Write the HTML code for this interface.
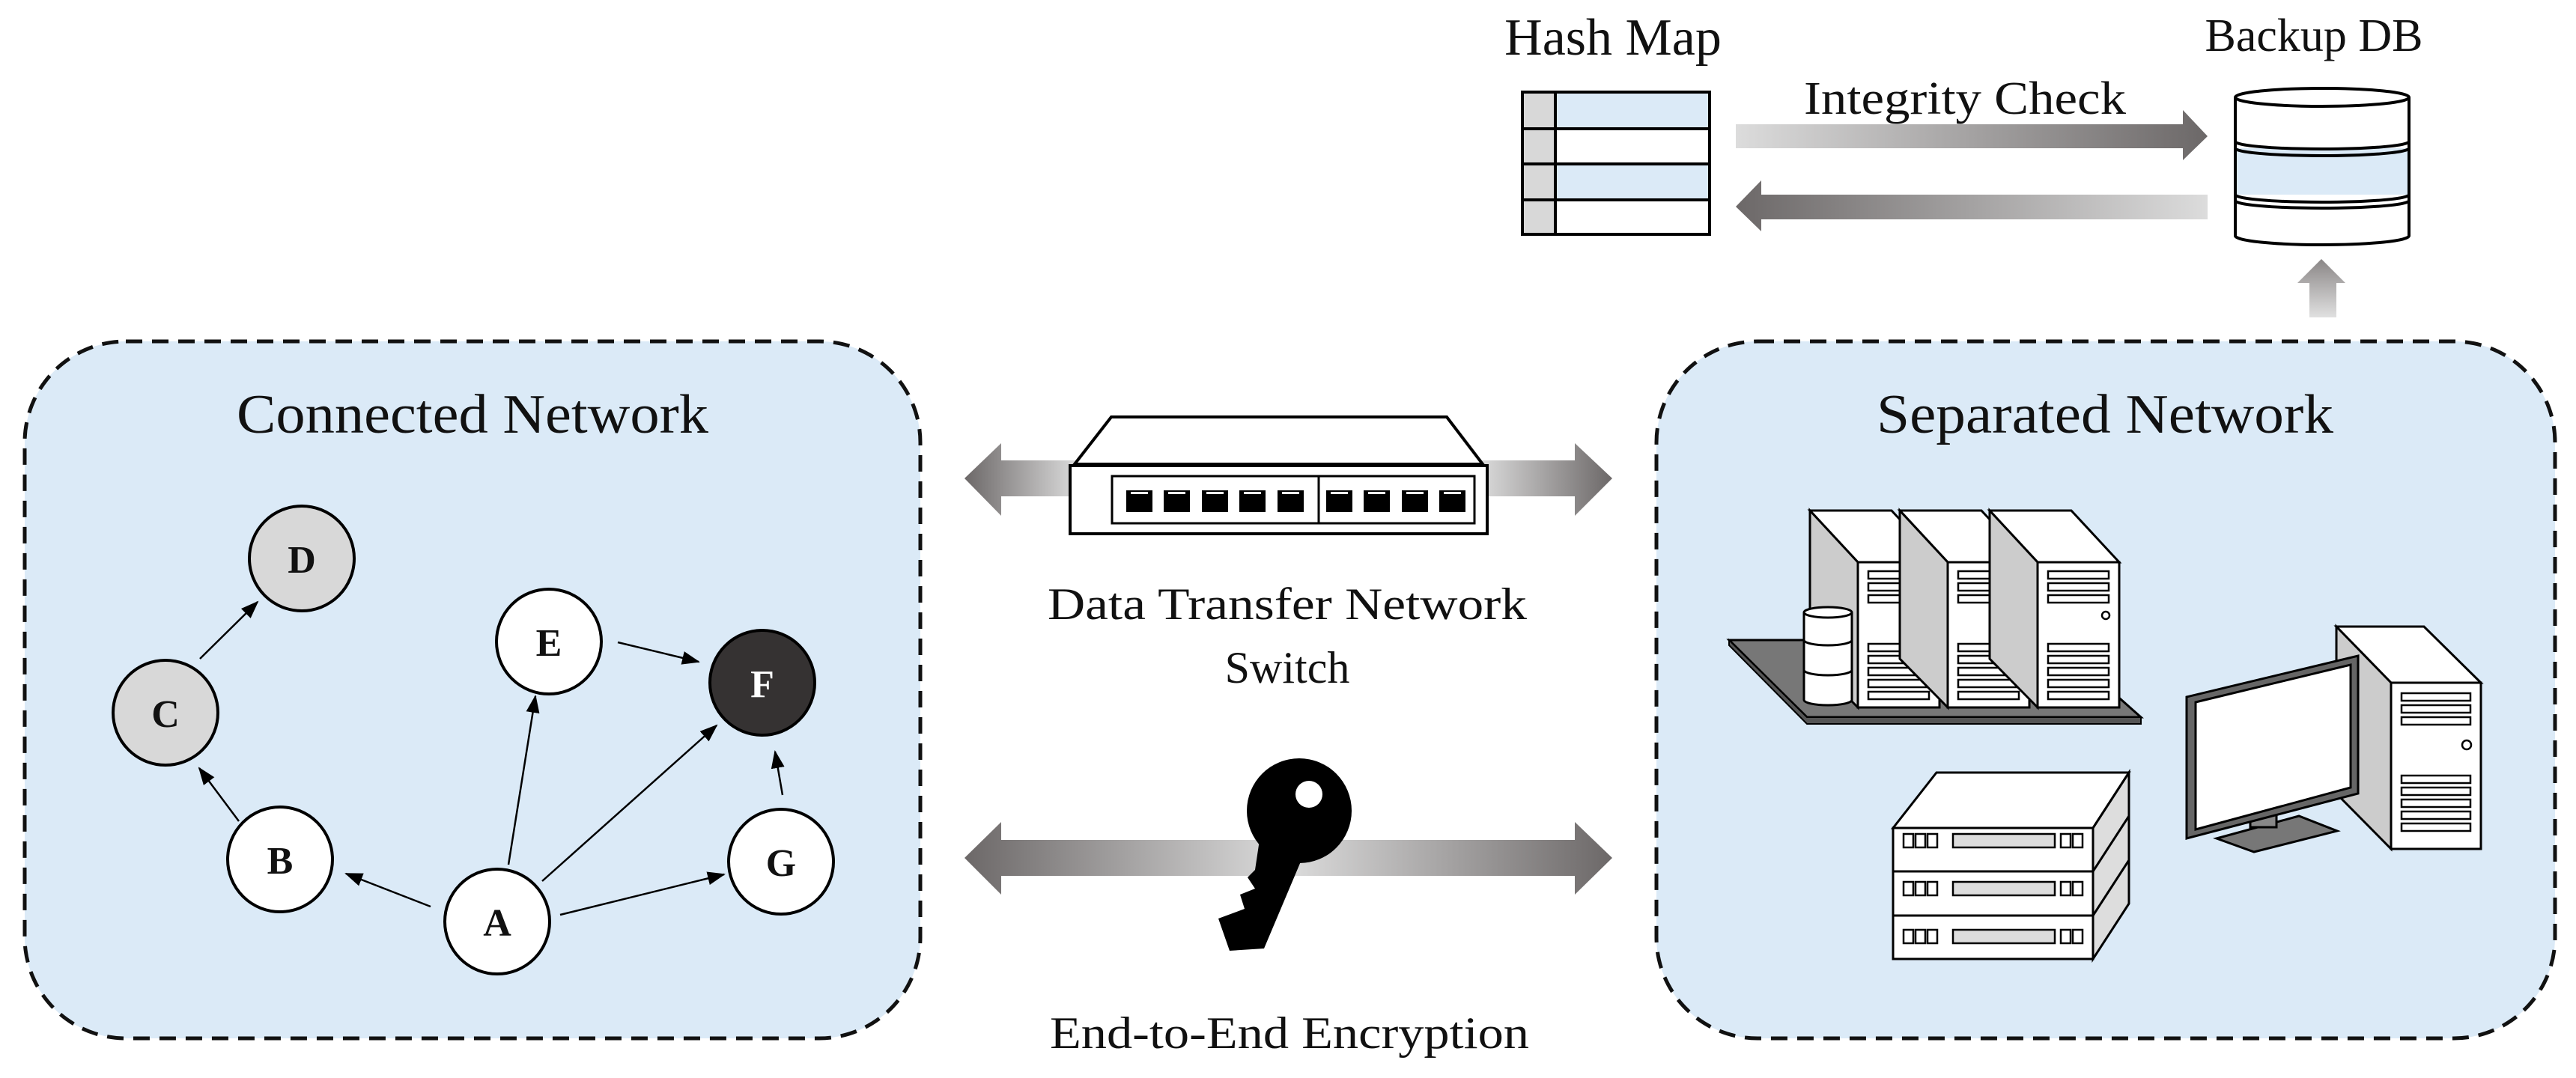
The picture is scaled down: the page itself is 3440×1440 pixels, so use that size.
<!DOCTYPE html>
<html><head><meta charset="utf-8"><style>html,body{margin:0;padding:0;background:#fff}svg{display:block}text{font-family:"Liberation Serif",serif;fill:#111}</style></head><body>
<svg width="3440" height="1440" viewBox="0 0 3440 1440" xmlns="http://www.w3.org/2000/svg">
<defs>
<linearGradient id="gL" x1="0" x2="1"><stop offset="0" stop-color="#6c6868"/><stop offset="1" stop-color="#dcdcdc"/></linearGradient>
<linearGradient id="gR" x1="0" x2="1"><stop offset="0" stop-color="#dcdcdc"/><stop offset="1" stop-color="#6c6868"/></linearGradient>
<linearGradient id="gU" x1="0" y1="1" x2="0" y2="0"><stop offset="0" stop-color="#e0e0e0"/><stop offset="1" stop-color="#8a8686"/></linearGradient>
<marker id="ah2" markerWidth="24" markerHeight="20" refX="22" refY="10" orient="auto" markerUnits="userSpaceOnUse"><path d="M0,1 L24,10 L0,19 z" fill="#000"/></marker>
</defs>
<rect x="33" y="456" width="1196" height="931" rx="135" fill="#dbeaf7" stroke="#111" stroke-width="5" stroke-dasharray="22,13"/>
<rect x="2212" y="456" width="1200" height="931" rx="135" fill="#dbeaf7" stroke="#111" stroke-width="5" stroke-dasharray="22,13"/>
<text x="631" y="578" font-size="74" text-anchor="middle" textLength="630" lengthAdjust="spacingAndGlyphs">Connected Network</text>
<text x="2811" y="578" font-size="74" text-anchor="middle" textLength="610" lengthAdjust="spacingAndGlyphs">Separated Network</text>
<g stroke="#000" stroke-width="2.5" marker-end="url(#ah2)">
<line x1="319" y1="1097" x2="266" y2="1026"/>
<line x1="267" y1="880" x2="344" y2="804"/>
<line x1="825" y1="858" x2="933" y2="884"/>
<line x1="679" y1="1155" x2="715" y2="930"/>
<line x1="724" y1="1177" x2="957" y2="969"/>
<line x1="1045" y1="1062" x2="1035" y2="1004"/>
<line x1="575" y1="1211" x2="462" y2="1167"/>
<line x1="748" y1="1222" x2="967" y2="1168"/>
</g>
<g stroke="#000" stroke-width="4">
<circle cx="403" cy="746" r="70" fill="#d8d8d8"/>
<circle cx="221" cy="952" r="70" fill="#d8d8d8"/>
<circle cx="733" cy="857" r="70" fill="#fff"/>
<circle cx="1018" cy="912" r="70" fill="#353232"/>
<circle cx="374" cy="1148" r="70" fill="#fff"/>
<circle cx="664" cy="1231" r="70" fill="#fff"/>
<circle cx="1043" cy="1151" r="70" fill="#fff"/>
</g>
<g font-size="52" font-weight="bold" text-anchor="middle">
<text x="403" y="765">D</text><text x="221" y="971">C</text><text x="733" y="876">E</text>
<text x="1018" y="931" style="fill:#fff">F</text><text x="374" y="1167">B</text><text x="664" y="1250">A</text><text x="1043" y="1170">G</text>
</g>
<path d="M1288,639 L1337,592 L1337,615 L1440,615 L1440,663 L1337,663 L1337,689 Z" fill="url(#gL)"/>
<path d="M2153,639 L2103,592 L2103,615 L1975,615 L1975,663 L2103,663 L2103,689 Z" fill="url(#gR)"/>
<g transform="translate(0,-28)">
<path d="M1288,1174 L1337,1126 L1337,1150 L1720,1150 L1720,1198 L1337,1198 L1337,1223 Z" fill="url(#gL)"/>
<path d="M2153,1174 L2103,1126 L2103,1150 L1720,1150 L1720,1198 L2103,1198 L2103,1223 Z" fill="url(#gR)"/>
<circle cx="1735" cy="1111" r="70" fill="#000"/>
<circle cx="1748" cy="1089" r="18" fill="#fff"/>
<path d="M1682,1150 L1745,1160 L1688,1295 L1642,1298 L1627,1255 L1662,1242 L1656,1223 L1676,1215 L1666,1200 L1676,1190 Z" fill="#000"/>
</g>
<path d="M1435,620 L1484,557 L1932,557 L1980,620 Z" fill="#fff" stroke="#000" stroke-width="4"/>
<rect x="1429" y="622" width="557" height="91" fill="#fff" stroke="#000" stroke-width="4"/>
<rect x="1485" y="636" width="484" height="63" fill="#fff" stroke="#000" stroke-width="3"/>
<line x1="1761" y1="636" x2="1761" y2="699" stroke="#000" stroke-width="3"/>
<g fill="#000">
<rect x="1504" y="655" width="35" height="29"/><rect x="1554" y="655" width="35" height="29"/><rect x="1605" y="655" width="35" height="29"/><rect x="1655" y="655" width="35" height="29"/><rect x="1706" y="655" width="35" height="29"/>
<rect x="1771" y="655" width="35" height="29"/><rect x="1821" y="655" width="35" height="29"/><rect x="1872" y="655" width="35" height="29"/><rect x="1922" y="655" width="35" height="29"/>
</g>
<g fill="#fff"><rect x="1510" y="657" width="23" height="3"/><rect x="1560" y="657" width="23" height="3"/><rect x="1611" y="657" width="23" height="3"/><rect x="1661" y="657" width="23" height="3"/><rect x="1712" y="657" width="23" height="3"/><rect x="1777" y="657" width="23" height="3"/><rect x="1827" y="657" width="23" height="3"/><rect x="1878" y="657" width="23" height="3"/><rect x="1928" y="657" width="23" height="3"/></g>
<text x="1719" y="827" font-size="60" text-anchor="middle" textLength="640" lengthAdjust="spacingAndGlyphs">Data Transfer Network</text>
<text x="1719" y="912" font-size="60" text-anchor="middle">Switch</text>
<text x="1722" y="1400" font-size="60" text-anchor="middle" textLength="640" lengthAdjust="spacingAndGlyphs">End-to-End Encryption</text>
<text x="2154" y="73" font-size="70" text-anchor="middle">Hash Map</text>
<rect x="2033" y="123" width="250" height="190" fill="#fff"/>
<rect x="2077" y="123" width="206" height="49" fill="#dbeaf7"/><rect x="2077" y="219" width="206" height="48" fill="#dbeaf7"/>
<rect x="2033" y="123" width="44" height="190" fill="#d8d8d8"/>
<g stroke="#000" stroke-width="4" fill="none"><rect x="2033" y="123" width="250" height="190"/><line x1="2077" y1="123" x2="2077" y2="313"/><line x1="2033" y1="172" x2="2283" y2="172"/><line x1="2033" y1="219" x2="2283" y2="219"/><line x1="2033" y1="267" x2="2283" y2="267"/></g>
<text x="2624" y="152" font-size="62" text-anchor="middle" textLength="430" lengthAdjust="spacingAndGlyphs">Integrity Check</text>
<path d="M2318,166 L2915,166 L2915,147 L2948,182 L2915,214 L2915,198 L2318,198 Z" fill="url(#gR)"/>
<path d="M2948,260 L2352,260 L2352,241 L2318,276 L2352,309 L2352,293 L2948,293 Z" fill="url(#gL)"/>
<text x="3090" y="68" font-size="62" text-anchor="middle">Backup DB</text>
<path d="M2985,130 L2985,315 A116,12 0 0 0 3217,315 L3217,130" fill="#fff" stroke="#000" stroke-width="4"/>
<rect x="2987" y="198" width="228" height="62" fill="#dbeaf7"/>
<ellipse cx="3101" cy="130" rx="116" ry="12" fill="#fff" stroke="#000" stroke-width="4"/>
<g fill="none" stroke="#000" stroke-width="4"><path d="M2985,189 A116,10 0 0 0 3217,189"/><path d="M2985,198 A116,10 0 0 0 3217,198"/><path d="M2985,260 A116,10 0 0 0 3217,260"/><path d="M2985,268 A116,10 0 0 0 3217,268"/></g>
<path d="M3100,346 L3132,378 L3120,378 L3120,424 L3084,424 L3084,378 L3068,378 Z" fill="url(#gU)"/>
<path d="M2309,855 L2743,855 L2859,958 L2413,958 Z" fill="#777" stroke="#000" stroke-width="3"/>
<path d="M2309,855 L2413,958 L2859,958 L2859,967 L2413,967 L2309,862 Z" fill="#555" stroke="#000" stroke-width="2"/>
<g stroke="#000" stroke-width="3">
<path d="M2417,682 L2526,682 L2590,751 L2481,751 Z" fill="#fff"/>
<path d="M2417,682 L2481,751 L2481,945 L2417,880 Z" fill="#ccc"/>
<rect x="2481" y="751" width="109" height="194" fill="#fff"/>
<g fill="#fff" stroke-width="2.5"><rect x="2495" y="763" width="81" height="10"/><rect x="2495" y="779" width="81" height="10"/><rect x="2495" y="795" width="81" height="10"/><circle cx="2572" cy="822" r="5"/>
<rect x="2495" y="860" width="81" height="10"/><rect x="2495" y="876" width="81" height="10"/><rect x="2495" y="892" width="81" height="10"/><rect x="2495" y="908" width="81" height="10"/><rect x="2495" y="924" width="81" height="10"/></g>
</g>
<g stroke="#000" stroke-width="3" transform="translate(120,0)">
<path d="M2417,682 L2526,682 L2590,751 L2481,751 Z" fill="#fff"/>
<path d="M2417,682 L2481,751 L2481,945 L2417,880 Z" fill="#ccc"/>
<rect x="2481" y="751" width="109" height="194" fill="#fff"/>
<g fill="#fff" stroke-width="2.5"><rect x="2495" y="763" width="81" height="10"/><rect x="2495" y="779" width="81" height="10"/><rect x="2495" y="795" width="81" height="10"/><circle cx="2572" cy="822" r="5"/>
<rect x="2495" y="860" width="81" height="10"/><rect x="2495" y="876" width="81" height="10"/><rect x="2495" y="892" width="81" height="10"/><rect x="2495" y="908" width="81" height="10"/><rect x="2495" y="924" width="81" height="10"/></g>
</g>
<g stroke="#000" stroke-width="3" transform="translate(240,0)">
<path d="M2417,682 L2526,682 L2590,751 L2481,751 Z" fill="#fff"/>
<path d="M2417,682 L2481,751 L2481,945 L2417,880 Z" fill="#ccc"/>
<rect x="2481" y="751" width="109" height="194" fill="#fff"/>
<g fill="#fff" stroke-width="2.5"><rect x="2495" y="763" width="81" height="10"/><rect x="2495" y="779" width="81" height="10"/><rect x="2495" y="795" width="81" height="10"/><circle cx="2572" cy="822" r="5"/>
<rect x="2495" y="860" width="81" height="10"/><rect x="2495" y="876" width="81" height="10"/><rect x="2495" y="892" width="81" height="10"/><rect x="2495" y="908" width="81" height="10"/><rect x="2495" y="924" width="81" height="10"/></g>
</g>
<g stroke="#000" stroke-width="3" fill="#fff">
<path d="M2409,818 L2409,935 A32,7 0 0 0 2473,935 L2473,818"/>
<ellipse cx="2441" cy="818" rx="32" ry="7"/>
<path d="M2409,855 A32,7 0 0 0 2473,855 M2409,895 A32,7 0 0 0 2473,895" fill="none"/>
</g>
<g stroke="#000" stroke-width="3">
<path d="M2528,1106 L2586,1032 L2843,1032 L2795,1106 Z" fill="#fff"/>
<path d="M2795,1106 L2843,1032 L2843,1207 L2795,1281 Z" fill="#ddd"/>
<path d="M2795,1164 L2843,1090 M2795,1223 L2843,1149" fill="none"/>
<rect x="2528" y="1106" width="267" height="175" fill="#fff"/>
<line x1="2528" y1="1164" x2="2795" y2="1164"/><line x1="2528" y1="1223" x2="2795" y2="1223"/>
<g fill="#fff" stroke-width="2.5">
<rect x="2542" y="1114" width="13" height="18"/><rect x="2558" y="1114" width="13" height="18"/><rect x="2574" y="1114" width="13" height="18"/><rect x="2608" y="1114" width="136" height="18" fill="#ddd"/><rect x="2752" y="1114" width="13" height="18"/><rect x="2768" y="1114" width="13" height="18"/>
<rect x="2542" y="1178" width="13" height="18"/><rect x="2558" y="1178" width="13" height="18"/><rect x="2574" y="1178" width="13" height="18"/><rect x="2608" y="1178" width="136" height="18" fill="#ddd"/><rect x="2752" y="1178" width="13" height="18"/><rect x="2768" y="1178" width="13" height="18"/>
<rect x="2542" y="1242" width="13" height="18"/><rect x="2558" y="1242" width="13" height="18"/><rect x="2574" y="1242" width="13" height="18"/><rect x="2608" y="1242" width="136" height="18" fill="#ddd"/><rect x="2752" y="1242" width="13" height="18"/><rect x="2768" y="1242" width="13" height="18"/>
</g>
</g>
<g stroke="#000" stroke-width="3">
<path d="M3120,837 L3237,837 L3313,912 L3193,912 Z" fill="#fff"/>
<path d="M3120,837 L3193,912 L3193,1134 L3120,1060 Z" fill="#ccc"/>
<rect x="3193" y="912" width="120" height="222" fill="#fff"/>
<g fill="#fff" stroke-width="2.5"><rect x="3207" y="926" width="92" height="10"/><rect x="3207" y="942" width="92" height="10"/><rect x="3207" y="958" width="92" height="10"/><circle cx="3294" cy="995" r="6"/>
<rect x="3207" y="1036" width="92" height="10"/><rect x="3207" y="1052" width="92" height="10"/><rect x="3207" y="1068" width="92" height="10"/><rect x="3207" y="1084" width="92" height="10"/><rect x="3207" y="1100" width="92" height="10"/></g>
</g>
<g stroke="#000" stroke-width="3">
<path d="M2960,1120 L3010,1138 L3121,1110 L3070,1090 Z" fill="#777"/>
<rect x="3005" y="1075" width="35" height="30" fill="#888"/>
<path d="M2920,931 L3149,876 L3149,1060 L2920,1120 Z" fill="#666"/>
<path d="M2932,938 L3139,888 L3139,1052 L2932,1108 Z" fill="#fff"/>
</g>
</svg>
</body></html>
